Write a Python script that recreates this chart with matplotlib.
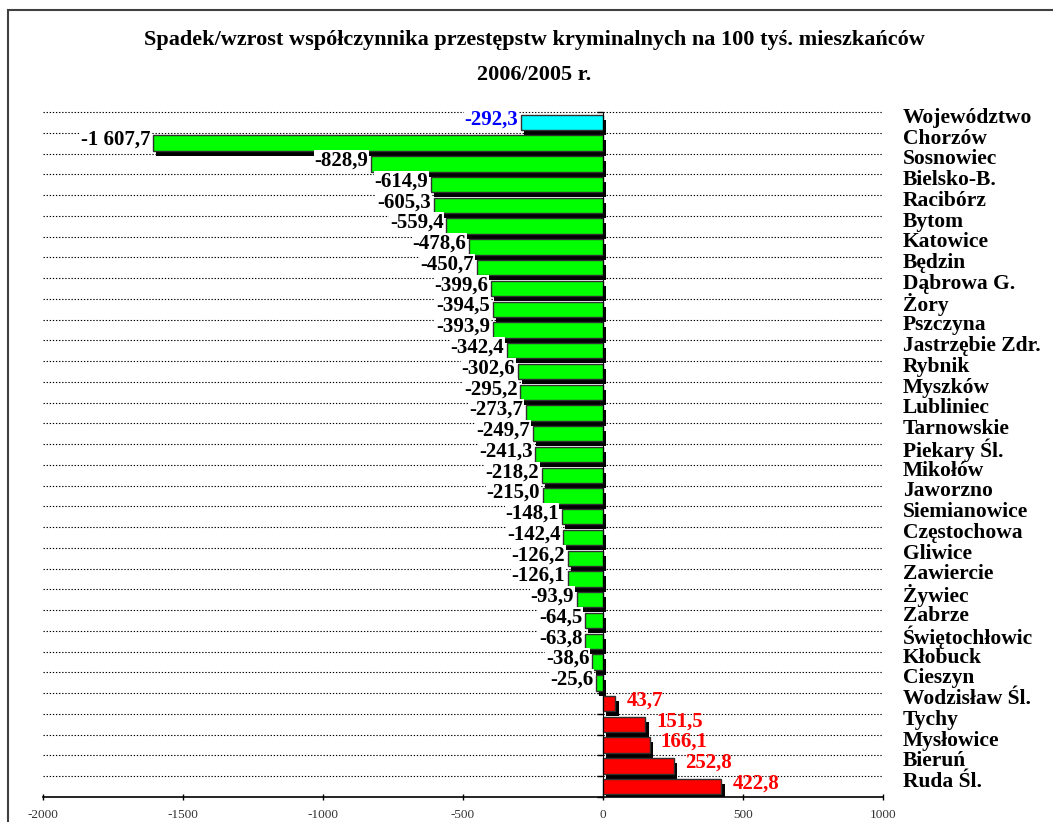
import numpy as np
import matplotlib
matplotlib.use("Agg")
import matplotlib.pyplot as plt
import matplotlib.patheffects as pe
import matplotlib.transforms as mtransforms
from matplotlib.patches import Rectangle

# data
regions = ["Województwo", "Chorzów", "Sosnowiec", "Bielsko-B.", "Racibórz", "Bytom",
           "Katowice", "Będzin", "Dąbrowa G.", "Żory", "Pszczyna", "Jastrzębie Zdr.",
           "Rybnik", "Myszków", "Lubliniec", "Tarnowskie", "Piekary Śl.", "Mikołów",
           "Jaworzno", "Siemianowice", "Częstochowa", "Gliwice", "Zawiercie", "Żywiec",
           "Zabrze", "Świętochłowic", "Kłobuck", "Cieszyn", "Wodzisław Śl.", "Tychy",
           "Mysłowice", "Bieruń", "Ruda Śl."]
change = [-292.3, -1607.7, -828.9, -614.9, -605.3, -559.4, -478.6, -450.7, -399.6,
          -394.5, -393.9, -342.4, -302.6, -295.2, -273.7, -249.7, -241.3, -218.2,
          -215.0, -148.1, -142.4, -126.2, -126.1, -93.9, -64.5, -63.8, -38.6, -25.6,
          43.7, 151.5, 166.1, 252.8, 422.8]
xticks = [-2000, -1500, -1000, -500, 0, 500, 1000]

title = "Spadek/wzrost współczynnika przestępstw kryminalnych na 100 tyś. mieszkańców"
subtitle = "2006/2005 r."

FONT = "Liberation Serif"


def fmt(v):
    s = f"{abs(v):,.1f}".replace(",", " ").replace(".", ",")
    return ("-" if v < 0 else "") + s


def bar_color(i, v):
    if i == 0:
        return "#00FFFF"
    return "#00FF00" if v < 0 else "#FF0000"


def label_color(i, v):
    if i == 0:
        return "#0000FF"
    return "black" if v < 0 else "#FF0000"


fig = plt.figure(figsize=(10.53, 8.22), dpi=100)
ax = fig.add_axes([43 / 1053, 1 - 797 / 822, 840 / 1053, (797 - 112) / 822])

# outer frame of the chart area
fig.add_artist(Rectangle((8 / 1053, -0.05), 1.2, 1 - 10 / 822 + 0.05,
                         transform=fig.transFigure, fill=False,
                         edgecolor="#404040", lw=1.5))

y = np.arange(len(regions))
colors = [bar_color(i, v) for i, v in enumerate(change)]
bars = ax.barh(y, change, height=0.74, color=colors, edgecolor="#303030",
               linewidth=1.0, zorder=3)
for b in bars:
    b.set_path_effects([pe.SimplePatchShadow(offset=(2.4, -3.6), shadow_rgbFace="black",
                                             alpha=1.0), pe.Normal()])

# dotted separators between categories
for yb in np.arange(-0.5, len(regions) - 1, 1.0):
    ax.axhline(yb, color="black", lw=0.8, ls=(0, (1.2, 1.6)), zorder=1, clip_on=False)

ax.set_xlim(-2000, 1000)
ax.set_ylim(len(regions) - 0.5, -0.5)
ax.set_xticks(xticks)
ax.set_xticklabels([str(t) for t in xticks], fontfamily=FONT, fontsize=9.5, color="#333333")
ax.tick_params(axis="x", direction="inout", length=5, width=1, pad=6)

ax.spines["top"].set_visible(False)
ax.spines["right"].set_visible(False)
ax.spines["left"].set_position(("data", 0))
ax.spines["left"].set_zorder(5)
ax.spines["bottom"].set_linewidth(1.2)
ax.set_yticks(np.arange(-0.5, len(regions), 1.0))
ax.set_yticklabels([])
ax.tick_params(axis="y", direction="out", length=4, width=1)

# value labels
for i, v in enumerate(change):
    if v < 0:
        ax.annotate(fmt(v), (v, i - 0.15), xytext=(-2, 0), textcoords="offset points",
                    ha="right", va="center", fontfamily=FONT, fontweight="bold",
                    fontsize=15, color=label_color(i, v), zorder=4,
                    bbox=dict(facecolor="white", edgecolor="none", pad=0.5))
    else:
        ax.annotate(fmt(v), (v, i - 0.15), xytext=(8, 0), textcoords="offset points",
                    ha="left", va="center", fontfamily=FONT, fontweight="bold",
                    fontsize=15, color=label_color(i, v), zorder=4)

# category names on the right
trans = mtransforms.blended_transform_factory(fig.transFigure, ax.transData)
for i, name in enumerate(regions):
    fig.text(903 / 1053, i - 0.22, name, transform=trans, ha="left", va="center",
             fontfamily=FONT, fontweight="bold", fontsize=15.5)

fig.text(534 / 1053, 1 - 40 / 822, title, ha="center", va="center",
         fontfamily=FONT, fontweight="bold", fontsize=16)
fig.text(534 / 1053, 1 - 75 / 822, subtitle, ha="center", va="center",
         fontfamily=FONT, fontweight="bold", fontsize=16)

fig.savefig("out.png", dpi=100)
